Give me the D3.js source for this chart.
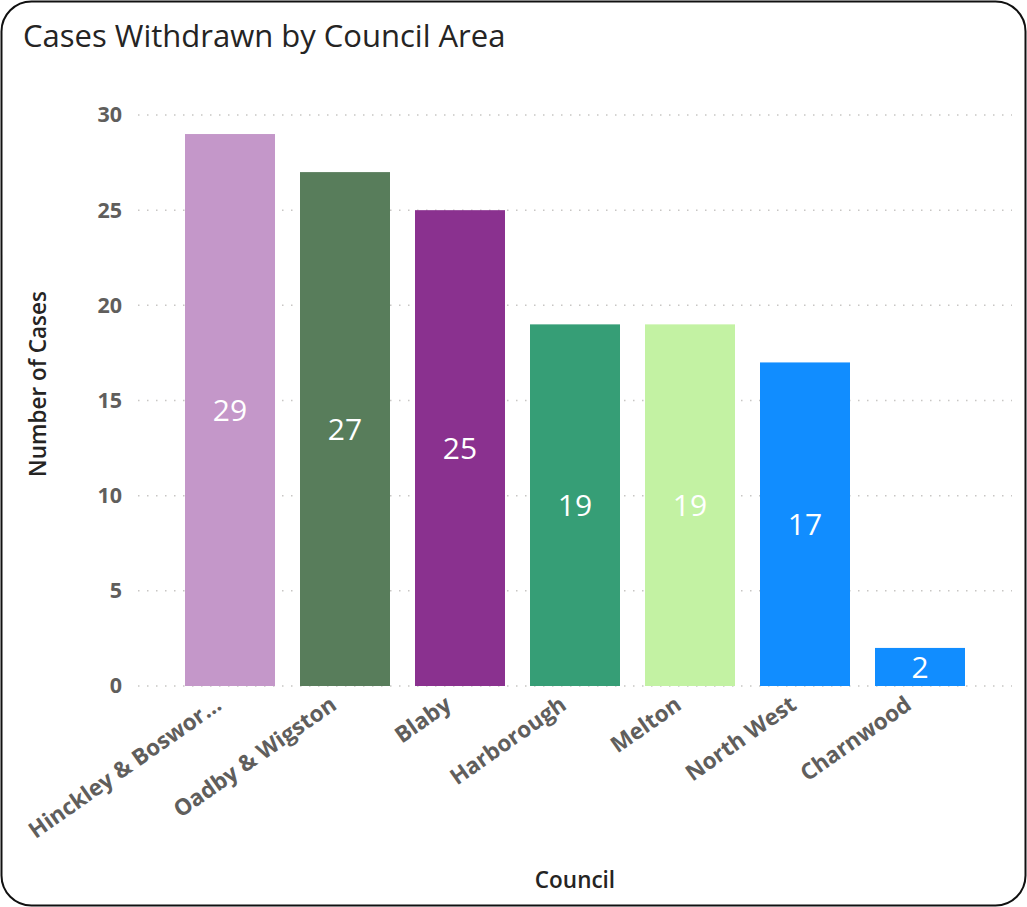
<!DOCTYPE html>
<html><head><meta charset="utf-8">
<script src="https://cdn.jsdelivr.net/npm/d3@7"></script>
<style>
html,body{margin:0;padding:0;background:#fff;}
svg{display:block;}
</style></head>
<body>
<script>
const categories = ["Hinckley & Boswor...", "Oadby & Wigston", "Blaby", "Harborough", "Melton", "North West", "Charnwood"];
const values = [29, 27, 25, 19, 19, 17, 2];
const colors = ["#C497C9", "#587D5B", "#8A318F", "#369E76", "#C3F2A3", "#118DFF", "#118DFF"];
const yTicks = [0, 5, 10, 15, 20, 25, 30];

const W = 1027, H = 907;
const svg = d3.select("body").append("svg").attr("width", W).attr("height", H);

svg.append("rect").attr("x", 1.5).attr("y", 1.5).attr("width", W - 3).attr("height", H - 3)
  .attr("rx", 30).attr("ry", 30).attr("fill", "#fff").attr("stroke", "#111").attr("stroke-width", 2);

const font = "'Open Sans', 'Noto Sans', sans-serif";

svg.append("text").attr("x", 23).attr("y", 47).text("Cases Withdrawn by Council Area")
  .attr("font-family", font).attr("font-size", 31).attr("fill", "#252423");

const p = 25 / 115;
const x = d3.scaleBand().domain(categories).range([172.5, 977.5]).paddingInner(p).paddingOuter(p / 2);
const y = d3.scaleLinear().domain([0, 30]).range([686, 115]);

// gridlines
svg.append("g").selectAll("line").data(yTicks).join("line")
  .attr("x1", 138).attr("x2", 1012)
  .attr("y1", d => y(d)).attr("y2", d => y(d))
  .attr("stroke", "#C8C6C4").attr("stroke-width", 1.5).attr("stroke-dasharray", "1.5,7.5");

// y axis
const yAxis = svg.append("g").attr("transform", "translate(122,0)")
  .call(d3.axisLeft(y).tickValues(yTicks).tickSize(0).tickPadding(0));
yAxis.select(".domain").remove();
yAxis.selectAll("text").attr("font-family", font).attr("font-weight", 700)
  .attr("font-size", 21.5).attr("fill", "#605E5C");

// bars
svg.append("g").selectAll("rect").data(values).join("rect")
  .attr("x", (d, i) => x(categories[i])).attr("width", x.bandwidth())
  .attr("y", d => y(d)).attr("height", d => y(0) - y(d))
  .attr("fill", (d, i) => colors[i]);

// data labels
svg.append("g").selectAll("text").data(values).join("text")
  .attr("x", (d, i) => x(categories[i]) + x.bandwidth() / 2)
  .attr("y", d => (y(d) + y(0)) / 2)
  .attr("dy", "0.36em").attr("text-anchor", "middle")
  .attr("font-family", font).attr("font-size", 30).attr("fill", "#fff")
  .text(d => d);

// x axis
const xAxis = svg.append("g").attr("transform", "translate(0,686)")
  .call(d3.axisBottom(x).tickSize(0).tickPadding(0));
xAxis.select(".domain").remove();
xAxis.selectAll("text")
  .attr("font-family", font).attr("font-weight", 700).attr("font-size", 22.5).attr("fill", "#605E5C")
  .attr("text-anchor", "end").attr("dy", null).attr("y", 0)
  .attr("transform", "translate(-7,22) rotate(-35)");

// axis titles
svg.append("text").attr("transform", "translate(46,384) rotate(-90)").attr("text-anchor", "middle")
  .attr("font-family", font).attr("font-weight", 600).attr("font-size", 22.5).attr("fill", "#252423")
  .text("Number of Cases");
svg.append("text").attr("x", 575).attr("y", 888).attr("text-anchor", "middle")
  .attr("font-family", font).attr("font-weight", 600).attr("font-size", 22.5).attr("fill", "#252423")
  .text("Council");
</script>
</body></html>
